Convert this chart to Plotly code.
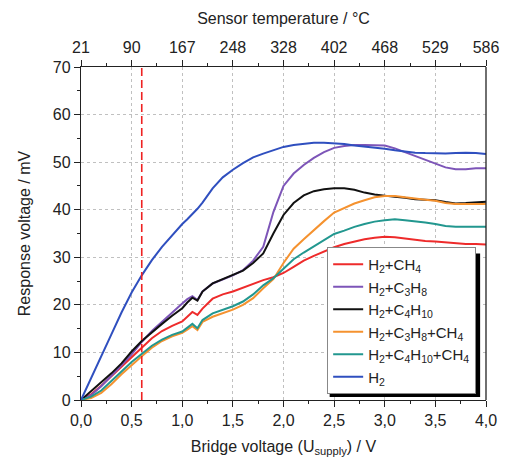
import plotly.graph_objects as go

voltage = [0, 0.1, 0.2, 0.3, 0.4, 0.5, 0.6, 0.7, 0.8, 0.9, 1.0, 1.05, 1.1, 1.15, 1.2, 1.3, 1.4,
           1.5, 1.6, 1.7, 1.8, 1.9, 2.0, 2.1, 2.2, 2.3, 2.4, 2.5, 2.6, 2.7, 2.8, 2.9, 3.0,
           3.1, 3.2, 3.3, 3.4, 3.5, 3.6, 3.7, 3.8, 3.9, 4.0]

h2_ch4 = [0, 1.2, 3.0, 5.0, 7.0, 9.1, 11.2, 13.0, 14.5, 15.6, 16.5, 17.5, 18.5, 17.9, 19.2, 21.3, 22.2,
          22.8, 23.6, 24.4, 25.2, 25.8, 26.7, 28.0, 29.3, 30.3, 31.2, 32.1, 32.8, 33.3, 33.8, 34.1, 34.3,
          34.2, 33.9, 33.6, 33.4, 33.3, 33.1, 32.9, 32.8, 32.8, 32.7]
h2_c3h8 = [0, 1.0, 2.9, 5.0, 7.3, 9.6, 12.2, 14.5, 16.5, 18.4, 20.3, 21.2, 21.8, 21.0, 22.8, 24.5, 25.4,
           26.2, 27.3, 29.3, 32.2, 39.5, 45.0, 47.6, 49.4, 50.9, 52.1, 53.0, 53.4, 53.6, 53.6, 53.6, 53.5,
           52.9, 52.1, 51.3, 50.5, 49.7, 48.9, 48.5, 48.5, 48.7, 48.7]
h2_c4h10 = [0, 1.8, 3.6, 5.6, 7.7, 10.2, 12.4, 14.3, 16.0, 17.7, 19.3, 20.5, 21.5, 20.9, 22.8, 24.5, 25.4,
            26.2, 27.2, 28.8, 30.8, 35.0, 38.9, 41.4, 43.0, 43.9, 44.3, 44.5, 44.5, 44.2, 43.6, 43.2, 42.9,
            42.7, 42.5, 42.2, 42.1, 42.0, 41.6, 41.3, 41.4, 41.6, 41.7]
h2_c3h8_ch4 = [0, 0.4, 1.5, 3.3, 5.4, 7.4, 9.2, 11.0, 12.4, 13.4, 14.1, 14.8, 15.5, 14.7, 16.4, 17.5, 18.3,
               19.0, 20.0, 21.4, 23.5, 25.4, 28.8, 31.8, 33.8, 35.8, 37.6, 39.4, 40.4, 41.3, 42.0, 42.6, 42.9,
               42.9, 42.6, 42.3, 42.1, 41.9, 41.4, 41.2, 41.2, 41.2, 41.2]
h2_c4h10_ch4 = [0, 0.7, 2.0, 3.9, 6.0, 8.0, 9.8, 11.4, 12.7, 13.7, 14.4, 15.2, 16.0, 15.1, 16.8, 18.2, 19.0,
                19.7, 20.7, 22.2, 24.1, 25.6, 27.6, 29.6, 31.0, 32.3, 33.5, 34.9, 35.6, 36.4, 37.0, 37.5, 37.8,
                38.0, 37.8, 37.6, 37.3, 37.0, 36.6, 36.4, 36.4, 36.4, 36.4]
h2 = [0, 4.5, 9.2, 13.8, 18.4, 22.6, 26.2, 29.4, 32.2, 34.7, 37.0, 38.0, 39.0, 40.2, 41.5, 44.5, 46.8,
      48.4, 49.8, 51.0, 51.8, 52.5, 53.2, 53.6, 53.9, 54.1, 54.1, 54.0, 53.8, 53.5, 53.3, 53.1, 52.8,
      52.5, 52.2, 52.0, 51.9, 51.8, 51.8, 51.9, 52.0, 51.9, 51.7]

series_names = ["H<sub>2</sub>+CH<sub>4</sub>", "H<sub>2</sub>+C<sub>3</sub>H<sub>8</sub>",
                "H<sub>2</sub>+C<sub>4</sub>H<sub>10</sub>", "H<sub>2</sub>+C<sub>3</sub>H<sub>8</sub>+CH<sub>4</sub>",
                "H<sub>2</sub>+C<sub>4</sub>H<sub>10</sub>+CH<sub>4</sub>", "H<sub>2</sub>"]
series_values = [h2_ch4, h2_c3h8, h2_c4h10, h2_c3h8_ch4, h2_c4h10_ch4, h2]
colors = ["#ee2b2b", "#7d55b8", "#111111", "#f5922f", "#22978f", "#2f4fbf"]

bottom_ticks = [0, 0.5, 1.0, 1.5, 2.0, 2.5, 3.0, 3.5, 4.0]
bottom_labels = ["0,0", "0,5", "1,0", "1,5", "2,0", "2,5", "3,0", "3,5", "4,0"]
top_labels = ["21", "90", "167", "248", "328", "402", "468", "529", "586"]
y_ticks = [0, 10, 20, 30, 40, 50, 60, 70]
marker_voltage = 0.6

fig = go.Figure()
for name, vals, col in zip(series_names, series_values, colors):
    fig.add_trace(go.Scatter(x=voltage, y=vals, mode="lines", name=name,
                             line=dict(color=col, width=2)))
# invisible trace to activate top axis
fig.add_trace(go.Scatter(x=[0, 4], y=[0, 0], xaxis="x2", mode="lines",
                         line=dict(width=0), showlegend=False, hoverinfo="skip"))

font = "Liberation Sans, Arial, sans-serif"
axis_common = dict(showline=True, linecolor="#222", linewidth=1.3, ticks="outside",
                   ticklen=6, tickwidth=1.3, tickcolor="#222",
                   tickfont=dict(family=font, size=16, color="#222"), zeroline=False)

fig.update_layout(
    width=511, height=465,
    margin=dict(l=81, r=18, t=67, b=65),
    plot_bgcolor="white", paper_bgcolor="white",
    font=dict(family=font, color="#222"),
    xaxis=dict(range=[0, 4], tickvals=bottom_ticks, ticktext=bottom_labels,
               showgrid=True, gridcolor="#c0c0c0", griddash="dot", gridwidth=1,
               minor=dict(ticks="outside", ticklen=3, dtick=0.25, tick0=0, tickcolor="#222", showgrid=False),
               title=dict(text="Bridge voltage (U<sub>supply</sub>) / V", font=dict(family=font, size=16), standoff=12),
               **axis_common),
    xaxis2=dict(range=[0, 4], overlaying="x", side="top", tickvals=bottom_ticks, ticktext=top_labels,
                showgrid=False,
                minor=dict(ticks="outside", ticklen=3, dtick=0.25, tick0=0, tickcolor="#222"),
                title=dict(text="Sensor temperature / °C", font=dict(family=font, size=16), standoff=10),
                **axis_common),
    yaxis=dict(range=[0, 70], tickvals=y_ticks,
               showgrid=True, gridcolor="#c0c0c0", griddash="dot", gridwidth=1,
               minor=dict(ticks="outside", ticklen=3, dtick=5, tick0=0, tickcolor="#222", showgrid=False),
               title=dict(text="Response voltage / mV", font=dict(family=font, size=16), standoff=18),
               **axis_common),
    legend=dict(x=0.9757, y=0.4595, xanchor="right", yanchor="top",
                bgcolor="white", bordercolor="#888", borderwidth=1,
                font=dict(family=font, size=15, color="#222"),
                tracegroupgap=0, itemwidth=30),
    showlegend=True,
)

# right frame line
fig.add_shape(type="line", xref="paper", yref="paper", x0=1, x1=1, y0=0, y1=1,
              line=dict(color="#222", width=1.3))
# dashed red marker
fig.add_shape(type="line", xref="x", yref="y", x0=marker_voltage, x1=marker_voltage, y0=0, y1=70,
              line=dict(color="#ee2222", width=1.6, dash="8px,4px"))
# legend shadow
fig.add_shape(type="rect", xref="paper", yref="paper", x0=0.614, x1=0.9855, y0=0.009, y1=0.44,
              fillcolor="black", line=dict(width=0), layer="above")

fig.write_html("out.html")
